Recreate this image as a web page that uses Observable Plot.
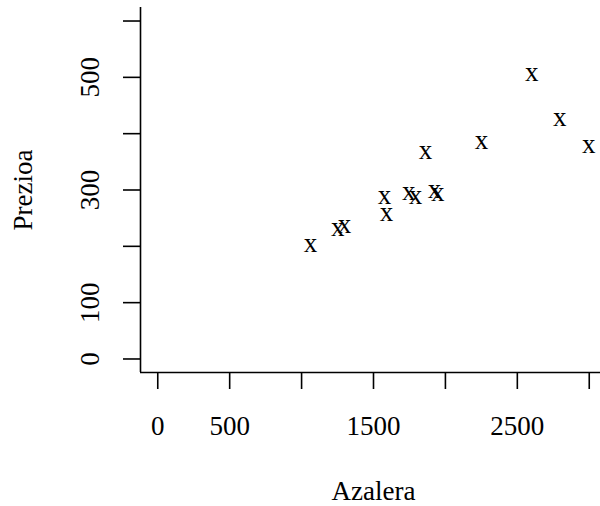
<!DOCTYPE html>
<html>
<head>
<meta charset="utf-8">
<script src="https://cdn.jsdelivr.net/npm/d3@7"></script>
<script src="https://cdn.jsdelivr.net/npm/@observablehq/plot@0.6"></script>
<style>
  html, body { margin: 0; padding: 0; background: white; }
  svg { overflow: hidden; }
</style>
</head>
<body>
<div id="chart"></div>
<script>
// Data
const azalera = [1062, 1252, 1298, 1576, 1590, 1745, 1792, 1862, 1924, 1947, 2251, 2601, 2795, 2997];
const prezioa = [200, 229, 235, 285, 255, 293, 285, 365, 296, 292, 384, 505, 425, 376];
const xTicks = [0, 500, 1000, 1500, 2000, 2500, 3000];
const xTickLabels = [0, 500, 1500, 2500];
const yTicks = [0, 100, 200, 300, 400, 500, 600];
const yTickLabels = [0, 100, 300, 500];
const xTitle = "Azalera";
const yTitle = "Prezioa";

const points = azalera.map((a, i) => ({azalera: a, prezioa: prezioa[i]}));

const font = "'Liberation Serif', 'DejaVu Serif', serif";
const fs = 27;
const lw = 1.6;

const chart = Plot.plot({
  width: 600,
  height: 506,
  marginLeft: 140,
  marginRight: -6,
  marginTop: 7,
  marginBottom: 134,
  style: {fontFamily: font, fontSize: fs + "px", background: "white", color: "black"},
  x: {domain: [-120, 3120]},
  y: {domain: [-24, 624]},
  marks: [
    // L-shaped box
    Plot.ruleX([-120], {y1: -24, y2: 624, stroke: "black", strokeWidth: lw}),
    Plot.ruleY([-24], {x1: -120, x2: 3120, stroke: "black", strokeWidth: lw}),
    // axis ticks
    Plot.axisX({ticks: xTicks, tickSize: 17, tickFormat: () => "", label: null, strokeWidth: lw}),
    Plot.axisY({ticks: yTicks, tickSize: 17, tickFormat: () => "", label: null, strokeWidth: lw}),
    // tick labels
    Plot.text(xTickLabels, {x: d => d, frameAnchor: "bottom", dy: 53.4, text: d => String(d),
      lineAnchor: "middle", textAnchor: "middle", fontSize: fs, fill: "black"}),
    Plot.text(yTickLabels, {y: d => d, frameAnchor: "left", dx: -50.5, rotate: -90, text: d => String(d),
      lineAnchor: "middle", textAnchor: "middle", fontSize: fs, fill: "black"}),
    // axis titles
    Plot.text([xTitle], {frameAnchor: "bottom", dy: 118.4, text: d => d, lineAnchor: "middle",
      textAnchor: "middle", fontSize: fs, fill: "black"}),
    Plot.text([yTitle], {frameAnchor: "left", dx: -117.5, rotate: -90, text: d => d, lineAnchor: "middle",
      textAnchor: "middle", fontSize: fs, fill: "black"}),
    // points drawn as "x" characters
    Plot.text(points, {x: "azalera", y: "prezioa", text: () => "x", lineAnchor: "middle",
      textAnchor: "middle", dy: -2.6, fontSize: fs, fill: "black"})
  ]
});

document.getElementById("chart").appendChild(chart);
</script>
</body>
</html>
